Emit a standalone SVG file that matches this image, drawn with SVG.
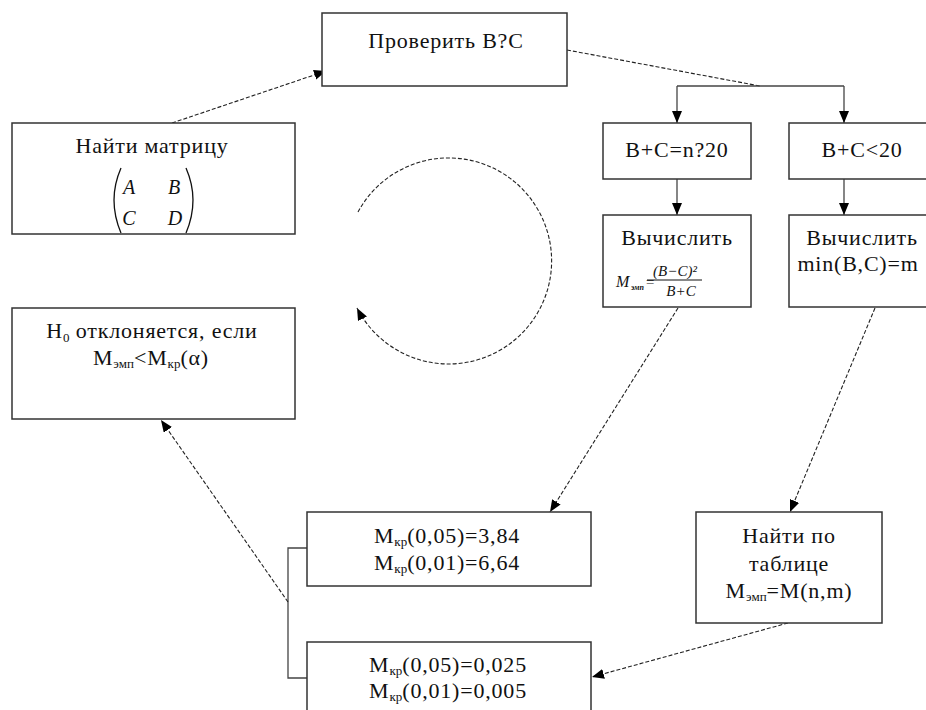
<svg xmlns="http://www.w3.org/2000/svg" width="926" height="710" viewBox="0 0 926 710">
<style>
text{font-family:"Liberation Serif","Times New Roman",serif}
.box{fill:#fff;stroke:#333;stroke-width:1.5}
.t{font-size:22px;letter-spacing:0.8px;fill:#111;text-anchor:middle}
.sub{font-size:13px;letter-spacing:0}
.it{font-style:italic;fill:#111}
.dash{fill:none;stroke:#222;stroke-width:1.1;stroke-dasharray:4 2}
.solid{fill:none;stroke:#444;stroke-width:1.3}
</style>
<defs>
<marker id="ah" markerUnits="userSpaceOnUse" markerWidth="14" markerHeight="12" refX="12" refY="5" orient="auto">
<path d="M0,0 L12,5 L0,10 z" fill="#000"/>
</marker>
</defs>
<rect width="926" height="710" fill="#fff"/>

<g id="connectors">
<path class="dash" d="M172,123 L326,71" marker-end="url(#ah)"/>
<path class="dash" d="M567,50 L760,86"/>
<path class="solid" d="M677,86 L844,86"/>
<path class="solid" d="M677,86 L677,123" marker-end="url(#ah)"/>
<path class="solid" d="M844,86 L844,123" marker-end="url(#ah)"/>
<path class="solid" d="M677,179 L677,215" marker-end="url(#ah)"/>
<path class="solid" d="M844,179 L844,215" marker-end="url(#ah)"/>
<path class="dash" d="M678,308 L550,512" marker-end="url(#ah)"/>
<path class="dash" d="M875,308 L790,512" marker-end="url(#ah)"/>
<path class="dash" d="M788,623 L592,677" marker-end="url(#ah)"/>
<path class="solid" d="M307,548 L288,548 L288,678 L307,678"/>
<path class="dash" d="M288,602 L161,420" marker-end="url(#ah)"/>
<path class="dash" d="M358,212 A103,103 0 1 1 357,308" marker-end="url(#ah)"/>
</g>

<g id="check">
<rect class="box" x="322" y="13" width="245" height="73"/>
<text class="t" x="446" y="48">Проверить B?C</text>
</g>

<g id="matrix">
<rect class="box" x="12" y="123" width="283" height="111"/>
<text class="t" x="152" y="153">Найти матрицу</text>
<path d="M121,168 Q107,200 121,233" fill="none" stroke="#111" stroke-width="1.3"/>
<path d="M186,168 Q200,200 186,233" fill="none" stroke="#111" stroke-width="1.3"/>
<text class="it" font-size="20" x="129" y="194" text-anchor="middle">A</text>
<text class="it" font-size="20" x="174" y="194" text-anchor="middle">B</text>
<text class="it" font-size="20" x="129" y="225" text-anchor="middle">C</text>
<text class="it" font-size="20" x="175" y="225" text-anchor="middle">D</text>
</g>

<g id="cond1">
<rect class="box" x="603" y="123" width="148" height="56"/>
<text class="t" x="677" y="157">B+C=n?20</text>
</g>

<g id="cond2">
<rect class="box" x="789" y="123" width="146" height="56"/>
<text class="t" x="862" y="157">B+C&lt;20</text>
</g>

<g id="calc1">
<rect class="box" x="603" y="215" width="148" height="92"/>
<text class="t" x="677" y="245">Вычислить</text>
<text class="it" font-size="16" x="616" y="287">M</text>
<text class="it" font-size="8" x="631" y="290" font-weight="bold">эмп</text>
<text class="it" font-size="15" x="645" y="287">=</text>
<text class="it" font-size="15" x="675" y="276" text-anchor="middle">(B−C)²</text>
<line x1="647" y1="280" x2="702" y2="280" stroke="#111" stroke-width="1"/>
<text class="it" font-size="15" x="681" y="296" text-anchor="middle">B+C</text>
</g>

<g id="calc2">
<rect class="box" x="789" y="215" width="146" height="92"/>
<text class="t" x="862" y="245">Вычислить</text>
<text class="t" x="858" y="271">min(B,C)=m</text>
</g>

<g id="reject">
<rect class="box" x="12" y="308" width="283" height="111"/>
<text class="t" x="152" y="338">H<tspan class="sub" dy="4">0</tspan><tspan dy="-4"> отклоняется, если</tspan></text>
<text class="t" x="151" y="365">M<tspan class="sub" dy="3">эмп</tspan><tspan dy="-3">&lt;M</tspan><tspan class="sub" dy="3">кр</tspan><tspan dy="-3">(α)</tspan></text>
</g>

<g id="crit1">
<rect class="box" x="307" y="512" width="284" height="74"/>
<text class="t" x="447" y="543">M<tspan class="sub" dy="3">кр</tspan><tspan dy="-3">(0,05)=3,84</tspan></text>
<text class="t" x="447" y="570">M<tspan class="sub" dy="3">кр</tspan><tspan dy="-3">(0,01)=6,64</tspan></text>
</g>

<g id="crit2">
<rect class="box" x="307" y="642" width="284" height="80"/>
<text class="t" x="448" y="672">M<tspan class="sub" dy="3">кр</tspan><tspan dy="-3">(0,05)=0,025</tspan></text>
<text class="t" x="448" y="698">M<tspan class="sub" dy="3">кр</tspan><tspan dy="-3">(0,01)=0,005</tspan></text>
</g>

<g id="table">
<rect class="box" x="696" y="512" width="186" height="111"/>
<text class="t" x="789" y="543">Найти по</text>
<text class="t" x="789" y="571">таблице</text>
<text class="t" x="789" y="598">M<tspan class="sub" dy="3">эмп</tspan><tspan dy="-3">=M(n,m)</tspan></text>
</g>
</svg>
